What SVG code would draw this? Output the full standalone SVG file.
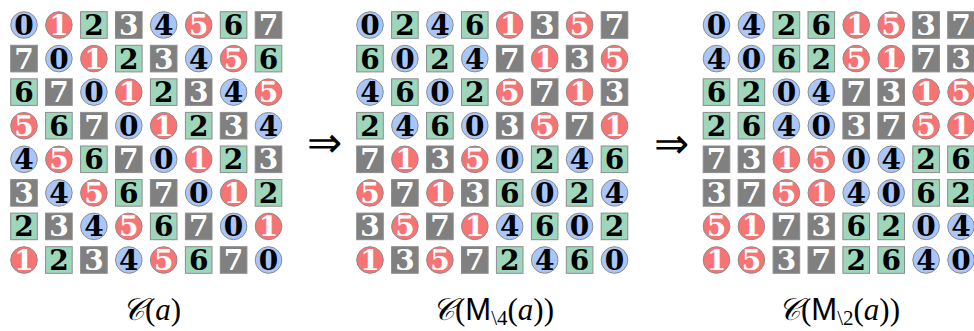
<svg xmlns="http://www.w3.org/2000/svg" xmlns:xlink="http://www.w3.org/1999/xlink" width="974" height="331" viewBox="0 0 974 331">
<style>
text{font-family:"DejaVu Serif","Liberation Serif",serif;}
.k,.w{font-weight:bold;font-size:28px;text-anchor:middle;}
.k{fill:#000}.w{fill:#fff}
.sh{stroke:#8c8c8c;stroke-width:1}
.lab{font-family:"Liberation Serif",serif;font-size:31px;fill:#000}
.arr{font-family:"DejaVu Sans",sans-serif;font-weight:200;font-size:42px;text-anchor:middle;fill:#000}
</style>
<defs>
<circle id="v0" class="sh" r="13.3" fill="#a9c6fa"/>
<circle id="v1" class="sh" r="13.3" fill="#f87474"/>
<rect id="v2" class="sh" x="-13.3" y="-13.3" width="26.6" height="26.6" fill="#9dd6bb"/>
<rect id="v3" class="sh" x="-13.3" y="-13.3" width="26.6" height="26.6" fill="#808080"/>
</defs>
<rect width="974" height="331" fill="#fff"/>
<g id="grid1">
<g id="a00" transform="translate(24,25)"><use href="#v0"/><text class="k" y="10">0</text></g>
<g id="a01" transform="translate(58.9,25)"><use href="#v1"/><text class="w" y="10">1</text></g>
<g id="a02" transform="translate(93.9,25)"><use href="#v2"/><text class="k" y="10">2</text></g>
<g id="a03" transform="translate(128.8,25)"><use href="#v3"/><text class="w" y="10">3</text></g>
<g id="a04" transform="translate(163.7,25)"><use href="#v0"/><text class="k" y="10">4</text></g>
<g id="a05" transform="translate(198.7,25)"><use href="#v1"/><text class="w" y="10">5</text></g>
<g id="a06" transform="translate(233.6,25)"><use href="#v2"/><text class="k" y="10">6</text></g>
<g id="a07" transform="translate(268.5,25)"><use href="#v3"/><text class="w" y="10">7</text></g>
<g id="a10" transform="translate(24,58.6)"><use href="#v3"/><text class="w" y="10">7</text></g>
<g id="a11" transform="translate(58.9,58.6)"><use href="#v0"/><text class="k" y="10">0</text></g>
<g id="a12" transform="translate(93.9,58.6)"><use href="#v1"/><text class="w" y="10">1</text></g>
<g id="a13" transform="translate(128.8,58.6)"><use href="#v2"/><text class="k" y="10">2</text></g>
<g id="a14" transform="translate(163.7,58.6)"><use href="#v3"/><text class="w" y="10">3</text></g>
<g id="a15" transform="translate(198.7,58.6)"><use href="#v0"/><text class="k" y="10">4</text></g>
<g id="a16" transform="translate(233.6,58.6)"><use href="#v1"/><text class="w" y="10">5</text></g>
<g id="a17" transform="translate(268.5,58.6)"><use href="#v2"/><text class="k" y="10">6</text></g>
<g id="a20" transform="translate(24,92.1)"><use href="#v2"/><text class="k" y="10">6</text></g>
<g id="a21" transform="translate(58.9,92.1)"><use href="#v3"/><text class="w" y="10">7</text></g>
<g id="a22" transform="translate(93.9,92.1)"><use href="#v0"/><text class="k" y="10">0</text></g>
<g id="a23" transform="translate(128.8,92.1)"><use href="#v1"/><text class="w" y="10">1</text></g>
<g id="a24" transform="translate(163.7,92.1)"><use href="#v2"/><text class="k" y="10">2</text></g>
<g id="a25" transform="translate(198.7,92.1)"><use href="#v3"/><text class="w" y="10">3</text></g>
<g id="a26" transform="translate(233.6,92.1)"><use href="#v0"/><text class="k" y="10">4</text></g>
<g id="a27" transform="translate(268.5,92.1)"><use href="#v1"/><text class="w" y="10">5</text></g>
<g id="a30" transform="translate(24,125.7)"><use href="#v1"/><text class="w" y="10">5</text></g>
<g id="a31" transform="translate(58.9,125.7)"><use href="#v2"/><text class="k" y="10">6</text></g>
<g id="a32" transform="translate(93.9,125.7)"><use href="#v3"/><text class="w" y="10">7</text></g>
<g id="a33" transform="translate(128.8,125.7)"><use href="#v0"/><text class="k" y="10">0</text></g>
<g id="a34" transform="translate(163.7,125.7)"><use href="#v1"/><text class="w" y="10">1</text></g>
<g id="a35" transform="translate(198.7,125.7)"><use href="#v2"/><text class="k" y="10">2</text></g>
<g id="a36" transform="translate(233.6,125.7)"><use href="#v3"/><text class="w" y="10">3</text></g>
<g id="a37" transform="translate(268.5,125.7)"><use href="#v0"/><text class="k" y="10">4</text></g>
<g id="a40" transform="translate(24,159.3)"><use href="#v0"/><text class="k" y="10">4</text></g>
<g id="a41" transform="translate(58.9,159.3)"><use href="#v1"/><text class="w" y="10">5</text></g>
<g id="a42" transform="translate(93.9,159.3)"><use href="#v2"/><text class="k" y="10">6</text></g>
<g id="a43" transform="translate(128.8,159.3)"><use href="#v3"/><text class="w" y="10">7</text></g>
<g id="a44" transform="translate(163.7,159.3)"><use href="#v0"/><text class="k" y="10">0</text></g>
<g id="a45" transform="translate(198.7,159.3)"><use href="#v1"/><text class="w" y="10">1</text></g>
<g id="a46" transform="translate(233.6,159.3)"><use href="#v2"/><text class="k" y="10">2</text></g>
<g id="a47" transform="translate(268.5,159.3)"><use href="#v3"/><text class="w" y="10">3</text></g>
<g id="a50" transform="translate(24,192.9)"><use href="#v3"/><text class="w" y="10">3</text></g>
<g id="a51" transform="translate(58.9,192.9)"><use href="#v0"/><text class="k" y="10">4</text></g>
<g id="a52" transform="translate(93.9,192.9)"><use href="#v1"/><text class="w" y="10">5</text></g>
<g id="a53" transform="translate(128.8,192.9)"><use href="#v2"/><text class="k" y="10">6</text></g>
<g id="a54" transform="translate(163.7,192.9)"><use href="#v3"/><text class="w" y="10">7</text></g>
<g id="a55" transform="translate(198.7,192.9)"><use href="#v0"/><text class="k" y="10">0</text></g>
<g id="a56" transform="translate(233.6,192.9)"><use href="#v1"/><text class="w" y="10">1</text></g>
<g id="a57" transform="translate(268.5,192.9)"><use href="#v2"/><text class="k" y="10">2</text></g>
<g id="a60" transform="translate(24,226.4)"><use href="#v2"/><text class="k" y="10">2</text></g>
<g id="a61" transform="translate(58.9,226.4)"><use href="#v3"/><text class="w" y="10">3</text></g>
<g id="a62" transform="translate(93.9,226.4)"><use href="#v0"/><text class="k" y="10">4</text></g>
<g id="a63" transform="translate(128.8,226.4)"><use href="#v1"/><text class="w" y="10">5</text></g>
<g id="a64" transform="translate(163.7,226.4)"><use href="#v2"/><text class="k" y="10">6</text></g>
<g id="a65" transform="translate(198.7,226.4)"><use href="#v3"/><text class="w" y="10">7</text></g>
<g id="a66" transform="translate(233.6,226.4)"><use href="#v0"/><text class="k" y="10">0</text></g>
<g id="a67" transform="translate(268.5,226.4)"><use href="#v1"/><text class="w" y="10">1</text></g>
<g id="a70" transform="translate(24,260)"><use href="#v1"/><text class="w" y="10">1</text></g>
<g id="a71" transform="translate(58.9,260)"><use href="#v2"/><text class="k" y="10">2</text></g>
<g id="a72" transform="translate(93.9,260)"><use href="#v3"/><text class="w" y="10">3</text></g>
<g id="a73" transform="translate(128.8,260)"><use href="#v0"/><text class="k" y="10">4</text></g>
<g id="a74" transform="translate(163.7,260)"><use href="#v1"/><text class="w" y="10">5</text></g>
<g id="a75" transform="translate(198.7,260)"><use href="#v2"/><text class="k" y="10">6</text></g>
<g id="a76" transform="translate(233.6,260)"><use href="#v3"/><text class="w" y="10">7</text></g>
<g id="a77" transform="translate(268.5,260)"><use href="#v0"/><text class="k" y="10">0</text></g>
</g>
<g id="grid2">
<g id="b00" transform="translate(370,25)"><use href="#v0"/><text class="k" y="10">0</text></g>
<g id="b01" transform="translate(404.9,25)"><use href="#v2"/><text class="k" y="10">2</text></g>
<g id="b02" transform="translate(439.9,25)"><use href="#v0"/><text class="k" y="10">4</text></g>
<g id="b03" transform="translate(474.8,25)"><use href="#v2"/><text class="k" y="10">6</text></g>
<g id="b04" transform="translate(509.7,25)"><use href="#v1"/><text class="w" y="10">1</text></g>
<g id="b05" transform="translate(544.7,25)"><use href="#v3"/><text class="w" y="10">3</text></g>
<g id="b06" transform="translate(579.6,25)"><use href="#v1"/><text class="w" y="10">5</text></g>
<g id="b07" transform="translate(614.5,25)"><use href="#v3"/><text class="w" y="10">7</text></g>
<g id="b10" transform="translate(370,58.6)"><use href="#v2"/><text class="k" y="10">6</text></g>
<g id="b11" transform="translate(404.9,58.6)"><use href="#v0"/><text class="k" y="10">0</text></g>
<g id="b12" transform="translate(439.9,58.6)"><use href="#v2"/><text class="k" y="10">2</text></g>
<g id="b13" transform="translate(474.8,58.6)"><use href="#v0"/><text class="k" y="10">4</text></g>
<g id="b14" transform="translate(509.7,58.6)"><use href="#v3"/><text class="w" y="10">7</text></g>
<g id="b15" transform="translate(544.7,58.6)"><use href="#v1"/><text class="w" y="10">1</text></g>
<g id="b16" transform="translate(579.6,58.6)"><use href="#v3"/><text class="w" y="10">3</text></g>
<g id="b17" transform="translate(614.5,58.6)"><use href="#v1"/><text class="w" y="10">5</text></g>
<g id="b20" transform="translate(370,92.1)"><use href="#v0"/><text class="k" y="10">4</text></g>
<g id="b21" transform="translate(404.9,92.1)"><use href="#v2"/><text class="k" y="10">6</text></g>
<g id="b22" transform="translate(439.9,92.1)"><use href="#v0"/><text class="k" y="10">0</text></g>
<g id="b23" transform="translate(474.8,92.1)"><use href="#v2"/><text class="k" y="10">2</text></g>
<g id="b24" transform="translate(509.7,92.1)"><use href="#v1"/><text class="w" y="10">5</text></g>
<g id="b25" transform="translate(544.7,92.1)"><use href="#v3"/><text class="w" y="10">7</text></g>
<g id="b26" transform="translate(579.6,92.1)"><use href="#v1"/><text class="w" y="10">1</text></g>
<g id="b27" transform="translate(614.5,92.1)"><use href="#v3"/><text class="w" y="10">3</text></g>
<g id="b30" transform="translate(370,125.7)"><use href="#v2"/><text class="k" y="10">2</text></g>
<g id="b31" transform="translate(404.9,125.7)"><use href="#v0"/><text class="k" y="10">4</text></g>
<g id="b32" transform="translate(439.9,125.7)"><use href="#v2"/><text class="k" y="10">6</text></g>
<g id="b33" transform="translate(474.8,125.7)"><use href="#v0"/><text class="k" y="10">0</text></g>
<g id="b34" transform="translate(509.7,125.7)"><use href="#v3"/><text class="w" y="10">3</text></g>
<g id="b35" transform="translate(544.7,125.7)"><use href="#v1"/><text class="w" y="10">5</text></g>
<g id="b36" transform="translate(579.6,125.7)"><use href="#v3"/><text class="w" y="10">7</text></g>
<g id="b37" transform="translate(614.5,125.7)"><use href="#v1"/><text class="w" y="10">1</text></g>
<g id="b40" transform="translate(370,159.3)"><use href="#v3"/><text class="w" y="10">7</text></g>
<g id="b41" transform="translate(404.9,159.3)"><use href="#v1"/><text class="w" y="10">1</text></g>
<g id="b42" transform="translate(439.9,159.3)"><use href="#v3"/><text class="w" y="10">3</text></g>
<g id="b43" transform="translate(474.8,159.3)"><use href="#v1"/><text class="w" y="10">5</text></g>
<g id="b44" transform="translate(509.7,159.3)"><use href="#v0"/><text class="k" y="10">0</text></g>
<g id="b45" transform="translate(544.7,159.3)"><use href="#v2"/><text class="k" y="10">2</text></g>
<g id="b46" transform="translate(579.6,159.3)"><use href="#v0"/><text class="k" y="10">4</text></g>
<g id="b47" transform="translate(614.5,159.3)"><use href="#v2"/><text class="k" y="10">6</text></g>
<g id="b50" transform="translate(370,192.9)"><use href="#v1"/><text class="w" y="10">5</text></g>
<g id="b51" transform="translate(404.9,192.9)"><use href="#v3"/><text class="w" y="10">7</text></g>
<g id="b52" transform="translate(439.9,192.9)"><use href="#v1"/><text class="w" y="10">1</text></g>
<g id="b53" transform="translate(474.8,192.9)"><use href="#v3"/><text class="w" y="10">3</text></g>
<g id="b54" transform="translate(509.7,192.9)"><use href="#v2"/><text class="k" y="10">6</text></g>
<g id="b55" transform="translate(544.7,192.9)"><use href="#v0"/><text class="k" y="10">0</text></g>
<g id="b56" transform="translate(579.6,192.9)"><use href="#v2"/><text class="k" y="10">2</text></g>
<g id="b57" transform="translate(614.5,192.9)"><use href="#v0"/><text class="k" y="10">4</text></g>
<g id="b60" transform="translate(370,226.4)"><use href="#v3"/><text class="w" y="10">3</text></g>
<g id="b61" transform="translate(404.9,226.4)"><use href="#v1"/><text class="w" y="10">5</text></g>
<g id="b62" transform="translate(439.9,226.4)"><use href="#v3"/><text class="w" y="10">7</text></g>
<g id="b63" transform="translate(474.8,226.4)"><use href="#v1"/><text class="w" y="10">1</text></g>
<g id="b64" transform="translate(509.7,226.4)"><use href="#v0"/><text class="k" y="10">4</text></g>
<g id="b65" transform="translate(544.7,226.4)"><use href="#v2"/><text class="k" y="10">6</text></g>
<g id="b66" transform="translate(579.6,226.4)"><use href="#v0"/><text class="k" y="10">0</text></g>
<g id="b67" transform="translate(614.5,226.4)"><use href="#v2"/><text class="k" y="10">2</text></g>
<g id="b70" transform="translate(370,260)"><use href="#v1"/><text class="w" y="10">1</text></g>
<g id="b71" transform="translate(404.9,260)"><use href="#v3"/><text class="w" y="10">3</text></g>
<g id="b72" transform="translate(439.9,260)"><use href="#v1"/><text class="w" y="10">5</text></g>
<g id="b73" transform="translate(474.8,260)"><use href="#v3"/><text class="w" y="10">7</text></g>
<g id="b74" transform="translate(509.7,260)"><use href="#v2"/><text class="k" y="10">2</text></g>
<g id="b75" transform="translate(544.7,260)"><use href="#v0"/><text class="k" y="10">4</text></g>
<g id="b76" transform="translate(579.6,260)"><use href="#v2"/><text class="k" y="10">6</text></g>
<g id="b77" transform="translate(614.5,260)"><use href="#v0"/><text class="k" y="10">0</text></g>
</g>
<g id="grid3">
<g id="c00" transform="translate(716.5,25)"><use href="#v0"/><text class="k" y="10">0</text></g>
<g id="c01" transform="translate(751.4,25)"><use href="#v0"/><text class="k" y="10">4</text></g>
<g id="c02" transform="translate(786.4,25)"><use href="#v2"/><text class="k" y="10">2</text></g>
<g id="c03" transform="translate(821.3,25)"><use href="#v2"/><text class="k" y="10">6</text></g>
<g id="c04" transform="translate(856.2,25)"><use href="#v1"/><text class="w" y="10">1</text></g>
<g id="c05" transform="translate(891.2,25)"><use href="#v1"/><text class="w" y="10">5</text></g>
<g id="c06" transform="translate(926.1,25)"><use href="#v3"/><text class="w" y="10">3</text></g>
<g id="c07" transform="translate(961,25)"><use href="#v3"/><text class="w" y="10">7</text></g>
<g id="c10" transform="translate(716.5,58.6)"><use href="#v0"/><text class="k" y="10">4</text></g>
<g id="c11" transform="translate(751.4,58.6)"><use href="#v0"/><text class="k" y="10">0</text></g>
<g id="c12" transform="translate(786.4,58.6)"><use href="#v2"/><text class="k" y="10">6</text></g>
<g id="c13" transform="translate(821.3,58.6)"><use href="#v2"/><text class="k" y="10">2</text></g>
<g id="c14" transform="translate(856.2,58.6)"><use href="#v1"/><text class="w" y="10">5</text></g>
<g id="c15" transform="translate(891.2,58.6)"><use href="#v1"/><text class="w" y="10">1</text></g>
<g id="c16" transform="translate(926.1,58.6)"><use href="#v3"/><text class="w" y="10">7</text></g>
<g id="c17" transform="translate(961,58.6)"><use href="#v3"/><text class="w" y="10">3</text></g>
<g id="c20" transform="translate(716.5,92.1)"><use href="#v2"/><text class="k" y="10">6</text></g>
<g id="c21" transform="translate(751.4,92.1)"><use href="#v2"/><text class="k" y="10">2</text></g>
<g id="c22" transform="translate(786.4,92.1)"><use href="#v0"/><text class="k" y="10">0</text></g>
<g id="c23" transform="translate(821.3,92.1)"><use href="#v0"/><text class="k" y="10">4</text></g>
<g id="c24" transform="translate(856.2,92.1)"><use href="#v3"/><text class="w" y="10">7</text></g>
<g id="c25" transform="translate(891.2,92.1)"><use href="#v3"/><text class="w" y="10">3</text></g>
<g id="c26" transform="translate(926.1,92.1)"><use href="#v1"/><text class="w" y="10">1</text></g>
<g id="c27" transform="translate(961,92.1)"><use href="#v1"/><text class="w" y="10">5</text></g>
<g id="c30" transform="translate(716.5,125.7)"><use href="#v2"/><text class="k" y="10">2</text></g>
<g id="c31" transform="translate(751.4,125.7)"><use href="#v2"/><text class="k" y="10">6</text></g>
<g id="c32" transform="translate(786.4,125.7)"><use href="#v0"/><text class="k" y="10">4</text></g>
<g id="c33" transform="translate(821.3,125.7)"><use href="#v0"/><text class="k" y="10">0</text></g>
<g id="c34" transform="translate(856.2,125.7)"><use href="#v3"/><text class="w" y="10">3</text></g>
<g id="c35" transform="translate(891.2,125.7)"><use href="#v3"/><text class="w" y="10">7</text></g>
<g id="c36" transform="translate(926.1,125.7)"><use href="#v1"/><text class="w" y="10">5</text></g>
<g id="c37" transform="translate(961,125.7)"><use href="#v1"/><text class="w" y="10">1</text></g>
<g id="c40" transform="translate(716.5,159.3)"><use href="#v3"/><text class="w" y="10">7</text></g>
<g id="c41" transform="translate(751.4,159.3)"><use href="#v3"/><text class="w" y="10">3</text></g>
<g id="c42" transform="translate(786.4,159.3)"><use href="#v1"/><text class="w" y="10">1</text></g>
<g id="c43" transform="translate(821.3,159.3)"><use href="#v1"/><text class="w" y="10">5</text></g>
<g id="c44" transform="translate(856.2,159.3)"><use href="#v0"/><text class="k" y="10">0</text></g>
<g id="c45" transform="translate(891.2,159.3)"><use href="#v0"/><text class="k" y="10">4</text></g>
<g id="c46" transform="translate(926.1,159.3)"><use href="#v2"/><text class="k" y="10">2</text></g>
<g id="c47" transform="translate(961,159.3)"><use href="#v2"/><text class="k" y="10">6</text></g>
<g id="c50" transform="translate(716.5,192.9)"><use href="#v3"/><text class="w" y="10">3</text></g>
<g id="c51" transform="translate(751.4,192.9)"><use href="#v3"/><text class="w" y="10">7</text></g>
<g id="c52" transform="translate(786.4,192.9)"><use href="#v1"/><text class="w" y="10">5</text></g>
<g id="c53" transform="translate(821.3,192.9)"><use href="#v1"/><text class="w" y="10">1</text></g>
<g id="c54" transform="translate(856.2,192.9)"><use href="#v0"/><text class="k" y="10">4</text></g>
<g id="c55" transform="translate(891.2,192.9)"><use href="#v0"/><text class="k" y="10">0</text></g>
<g id="c56" transform="translate(926.1,192.9)"><use href="#v2"/><text class="k" y="10">6</text></g>
<g id="c57" transform="translate(961,192.9)"><use href="#v2"/><text class="k" y="10">2</text></g>
<g id="c60" transform="translate(716.5,226.4)"><use href="#v1"/><text class="w" y="10">5</text></g>
<g id="c61" transform="translate(751.4,226.4)"><use href="#v1"/><text class="w" y="10">1</text></g>
<g id="c62" transform="translate(786.4,226.4)"><use href="#v3"/><text class="w" y="10">7</text></g>
<g id="c63" transform="translate(821.3,226.4)"><use href="#v3"/><text class="w" y="10">3</text></g>
<g id="c64" transform="translate(856.2,226.4)"><use href="#v2"/><text class="k" y="10">6</text></g>
<g id="c65" transform="translate(891.2,226.4)"><use href="#v2"/><text class="k" y="10">2</text></g>
<g id="c66" transform="translate(926.1,226.4)"><use href="#v0"/><text class="k" y="10">0</text></g>
<g id="c67" transform="translate(961,226.4)"><use href="#v0"/><text class="k" y="10">4</text></g>
<g id="c70" transform="translate(716.5,260)"><use href="#v1"/><text class="w" y="10">1</text></g>
<g id="c71" transform="translate(751.4,260)"><use href="#v1"/><text class="w" y="10">5</text></g>
<g id="c72" transform="translate(786.4,260)"><use href="#v3"/><text class="w" y="10">3</text></g>
<g id="c73" transform="translate(821.3,260)"><use href="#v3"/><text class="w" y="10">7</text></g>
<g id="c74" transform="translate(856.2,260)"><use href="#v2"/><text class="k" y="10">2</text></g>
<g id="c75" transform="translate(891.2,260)"><use href="#v2"/><text class="k" y="10">6</text></g>
<g id="c76" transform="translate(926.1,260)"><use href="#v0"/><text class="k" y="10">4</text></g>
<g id="c77" transform="translate(961,260)"><use href="#v0"/><text class="k" y="10">0</text></g>
</g>
<g id="connectors">
<text class="arr" x="324" y="157">⇒</text>
<text class="arr" x="671" y="158">⇒</text>
</g>
<g id="labels">
<text id="label1" class="lab" x="122" y="320"><tspan font-style="italic">𝒞</tspan>(<tspan font-style="italic">a</tspan>)</text>
<text id="label2" class="lab" x="432" y="320"><tspan font-style="italic">𝒞</tspan>(<tspan font-family="Liberation Sans,sans-serif">M</tspan><tspan font-size="21" dy="5">\4</tspan><tspan dy="-5">(</tspan><tspan font-style="italic">a</tspan>))</text>
<text id="label3" class="lab" x="778" y="320"><tspan font-style="italic">𝒞</tspan>(<tspan font-family="Liberation Sans,sans-serif">M</tspan><tspan font-size="21" dy="5">\2</tspan><tspan dy="-5">(</tspan><tspan font-style="italic">a</tspan>))</text>
</g>
</svg>
